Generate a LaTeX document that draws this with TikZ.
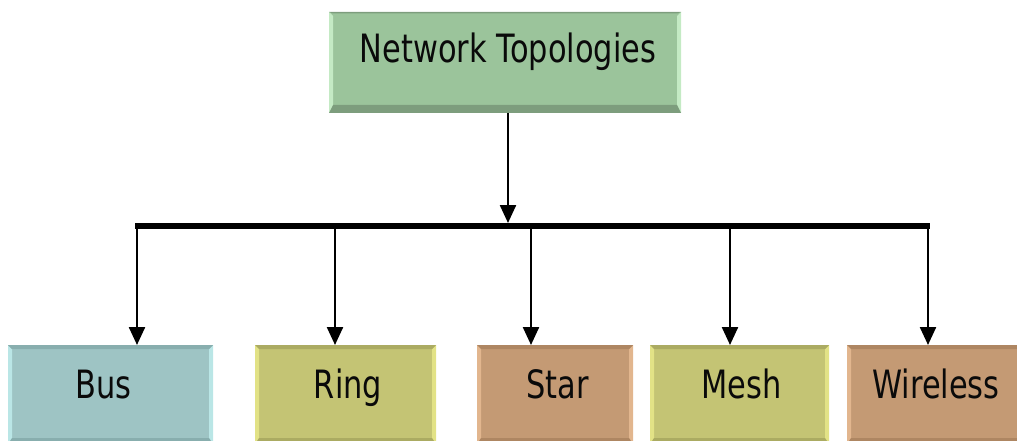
\documentclass[tikz,border=0pt]{standalone}
\usepackage{fontspec}
\setmainfont{DejaVu Sans}
\usetikzlibrary{arrows.meta}

% box palette: fill / light bevel / dark bevel
\definecolor{grnF}{HTML}{9BC49B}\definecolor{grnL}{HTML}{C4EAC4}\definecolor{grnD}{HTML}{7D9D7D}
\definecolor{tealF}{HTML}{9EC4C4}\definecolor{tealL}{HTML}{BAE6E6}\definecolor{tealD}{HTML}{88AEAE}
\definecolor{oliveF}{HTML}{C4C474}\definecolor{oliveL}{HTML}{E2E286}\definecolor{oliveD}{HTML}{ABAB62}
\definecolor{tanF}{HTML}{C49A74}\definecolor{tanL}{HTML}{E2B68E}\definecolor{tanD}{HTML}{AE8662}
\definecolor{ink}{HTML}{0A0A0A}

\newcommand{\lbl}[1]{\fontsize{39}{46}\selectfont\scalebox{0.78}[1]{#1}}

\begin{document}
\begin{tikzpicture}[x=1pt,y=-1pt,
  % beveled box: #1 fill, #2 light edges (left/right), #3 dark edges (top/bottom), #4 bottom band, #5 top band
  bevelbox/.style n args={5}{draw=none, fill=#1, inner sep=0pt, outer sep=0pt,
    path picture={
      \coordinate (pNW) at (path picture bounding box.north west);
      \coordinate (pNE) at (path picture bounding box.north east);
      \coordinate (pSW) at (path picture bounding box.south west);
      \coordinate (pSE) at (path picture bounding box.south east);
      \fill[#2] (pNW) -- ([shift={(4pt,-4pt)}]pNW) -- ([shift={(4pt,4pt)}]pSW) -- (pSW) -- cycle;
      \fill[#2] (pNE) -- ([shift={(-4pt,-4pt)}]pNE) -- ([shift={(-4pt,4pt)}]pSE) -- (pSE) -- cycle;
      \fill[#3] (pSW) -- ([shift={(4pt,#4)}]pSW) -- ([shift={(-4pt,#4)}]pSE) -- (pSE) -- cycle;
      \fill[#3] (pNW) -- ([shift={(4pt,-#5)}]pNW) -- ([shift={(-4pt,-#5)}]pNE) -- (pNE) -- cycle;
    }},
  txt/.style={text=ink, inner sep=0pt, anchor=base},
  bar/.style={line width=5.5pt, draw=black},
  link/.style={line width=2.4pt, draw=black, -{Triangle[length=18pt,width=16pt]}}
]
\useasboundingbox (0,0) rectangle (1017,441);
\clip (0,0) rectangle (1017,441);

% root box
\node[bevelbox={grnF}{grnL}{grnD}{8pt}{1.5pt}, minimum width=352pt, minimum height=101pt]
  (root) at (505,62.5) {};
\node[txt] (rootT) at (508,63) {\lbl{Network Topologies}};

% leaf boxes (bottoms run past the lower edge)
\node[bevelbox={tealF}{tealL}{tealD}{6pt}{4pt}, minimum width=205pt, minimum height=99pt]
  (bus) at (110.5,394.5) {};
\node[bevelbox={oliveF}{oliveL}{oliveD}{6pt}{4pt}, minimum width=181pt, minimum height=99pt]
  (ring) at (345.5,394.5) {};
\node[bevelbox={tanF}{tanL}{tanD}{6pt}{4pt}, minimum width=156pt, minimum height=99pt]
  (star) at (555,394.5) {};
\node[bevelbox={oliveF}{oliveL}{oliveD}{6pt}{4pt}, minimum width=179pt, minimum height=99pt]
  (mesh) at (739.5,394.5) {};
\node[bevelbox={tanF}{tanL}{tanD}{6pt}{4pt}, minimum width=180pt, minimum height=99pt]
  (wireless) at (937,394.5) {};

\node[txt] (busT) at (103.5,398) {\lbl{Bus}};
\node[txt] (ringT) at (348,398) {\lbl{Ring}};
\node[txt] (starT) at (557.5,398) {\lbl{Star}};
\node[txt] (meshT) at (741.5,398) {\lbl{Mesh}};
\node[txt] (wirelessT) at (936,398) {\lbl{Wireless}};

% distribution bar and its taps
\coordinate (barL) at (135,226);
\coordinate (barR) at (930,226);
\coordinate (hub) at (508,223);
\coordinate (t1) at (137,226);
\coordinate (t2) at (335,226);
\coordinate (t3) at (531,226);
\coordinate (t4) at (730,226);
\coordinate (t5) at (928,226);

\draw[link] (root.south -| hub) -- (hub);
\draw[bar] (barL) -- (barR);
\draw[link] (t1) -- (t1 |- bus.north);
\draw[link] (t2) -- (t2 |- ring.north);
\draw[link] (t3) -- (t3 |- star.north);
\draw[link] (t4) -- (t4 |- mesh.north);
\draw[link] (t5) -- (t5 |- wireless.north);
\end{tikzpicture}
\end{document}
